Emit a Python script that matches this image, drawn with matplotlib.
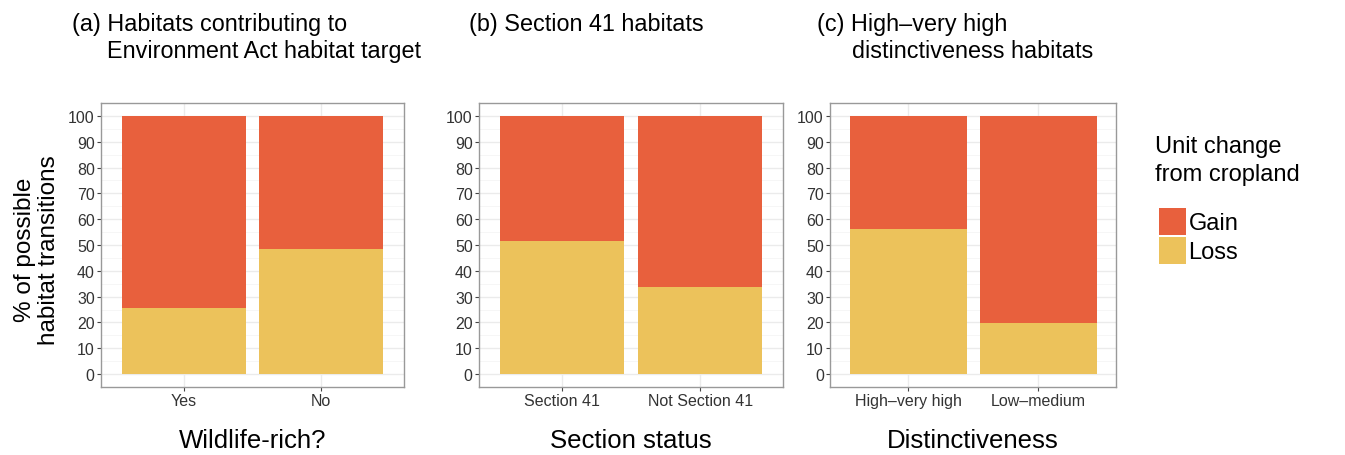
import matplotlib
matplotlib.use("Agg")
import matplotlib.pyplot as plt
from matplotlib.patches import Patch
import numpy as np

plt.rcParams['font.family'] = ['Liberation Sans', 'DejaVu Sans']

# Panel data: share (%) of possible habitat transitions that are a loss; the rest are gains
panel_titles = [("(a) Habitats contributing to", "Environment Act habitat target"),
                ("(b) Section 41 habitats", ""),
                ("(c) High\u2013very high", "distinctiveness habitats")]
panel_xlabels = ["Wildlife-rich?", "Section status", "Distinctiveness"]
panel_categories = [["Yes", "No"],
                    ["Section 41", "Not Section 41"],
                    ["High\u2013very high", "Low\u2013medium"]]
loss_pct = [[25.7, 48.3],
            [51.5, 33.8],
            [56.2, 19.6]]
gain_pct = [[100 - v for v in row] for row in loss_pct]

series_labels = ["Gain", "Loss"]
legend_title = ["Unit change", "from cropland"]
y_label = "% of possible\nhabitat transitions"
y_ticks = list(range(0, 101, 10))

GAIN_COLOR = "#E8603D"
LOSS_COLOR = "#ECC25B"
TEXT_COLOR = "#333333"
GRID_MAJOR = "#EBEBEB"
GRID_MINOR = "#F5F5F5"

W, H = 1345, 456
fig = plt.figure(figsize=(W / 100, H / 100), dpi=100)


def fx(px):
    return px / W


def fy(py):
    return 1 - py / H


# axes boxes in pixels: (left, width), plus title anchor x
boxes = [(101, 303), (479, 304), (830, 286)]
title_x = [72, 469, 817]
top_px, bottom_px = 104, 388

for i, (left, width) in enumerate(boxes):
    ax = fig.add_axes([fx(left), (H - bottom_px) / H, width / W, (bottom_px - top_px) / H])
    cats = panel_categories[i]
    x = np.arange(1, len(cats) + 1)
    ax.bar(x, loss_pct[i], width=0.9, color=LOSS_COLOR, zorder=3, linewidth=0)
    ax.bar(x, gain_pct[i], width=0.9, bottom=loss_pct[i], color=GAIN_COLOR, zorder=3, linewidth=0)

    ax.set_xlim(0.4, len(cats) + 0.6)
    ax.set_ylim(-5, 105)
    ax.set_xticks(x)
    ax.set_xticklabels(cats)
    ax.set_yticks(y_ticks)
    ax.set_yticks(np.arange(5, 100, 10), minor=True)
    ax.grid(True, which="major", color=GRID_MAJOR, linewidth=1.0, zorder=0)
    ax.grid(True, which="minor", axis="y", color=GRID_MINOR, linewidth=0.6, zorder=0)
    ax.set_axisbelow(True)
    for s in ax.spines.values():
        s.set_color("#999999")
        s.set_linewidth(1.0)
    ax.tick_params(axis="both", which="major", length=3, width=0.8, color="#444444",
                   labelsize=11.5, labelcolor=TEXT_COLOR, pad=1.5)
    ax.tick_params(axis="y", which="minor", length=0)
    ax.set_xlabel(panel_xlabels[i], fontsize=18.5, color="black", labelpad=14)

    line1, line2 = panel_titles[i]
    fig.text(fx(title_x[i]), fy(31), line1, fontsize=16.8, color="black",
             ha="left", va="baseline")
    if line2:
        fig.text(fx(title_x[i] + 35), fy(58), line2, fontsize=16.8, color="black",
                 ha="left", va="baseline")

# shared y-axis title
fig.text(fx(37), fy(250), y_label, fontsize=17.5, color="black", rotation=90,
         ha="center", va="center", multialignment="center", linespacing=1.08)

# legend title
fig.text(fx(1155), fy(153), legend_title[0], fontsize=17, color="black",
         ha="left", va="baseline")
fig.text(fx(1155), fy(181), legend_title[1], fontsize=17, color="black",
         ha="left", va="baseline")

# legend keys
handles = [Patch(facecolor=GAIN_COLOR, edgecolor="none"),
           Patch(facecolor=LOSS_COLOR, edgecolor="none")]
fig.legend(handles, series_labels, loc="upper left",
           bbox_to_anchor=(fx(1159), fy(209)), frameon=False, fontsize=17,
           handlelength=1.15, handleheight=1.35, handletextpad=0.1,
           labelspacing=0.12, borderpad=0, borderaxespad=0)

fig.savefig("out.png", dpi=100)
